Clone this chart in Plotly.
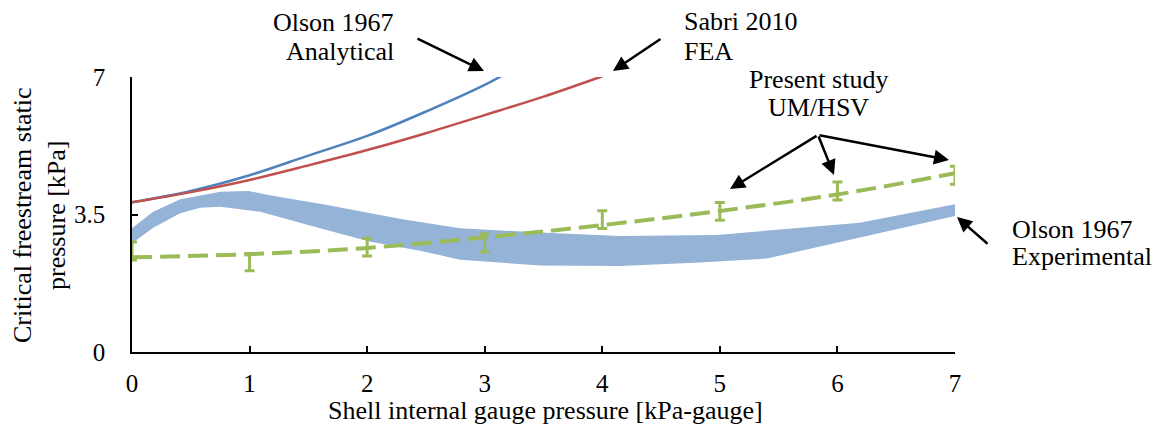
import plotly.graph_objects as go

# ---------------- data ----------------
# Olson 1967 analytical (blue line)
ana_x = [0, 0.5, 1, 1.5, 2, 2.5, 3, 3.2]
ana_y = [3.81, 4.10, 4.50, 5.00, 5.50, 6.12, 6.80, 7.12]
# Sabri 2010 FEA (red line)
fea_x = [0, 0.5, 1, 1.5, 2, 2.5, 3, 3.5, 4]
fea_y = [3.81, 4.07, 4.38, 4.75, 5.14, 5.57, 6.03, 6.50, 7.02]
# Olson 1967 experimental band (upper / lower edges)
exp_up_x = [0, 0.18, 0.41, 0.75, 0.99, 1.17, 1.66, 2.3, 2.79, 3.47, 4.15, 4.97, 6.19, 7.0]
exp_up_y = [3.15, 3.57, 3.89, 4.08, 4.10, 3.99, 3.74, 3.38, 3.15, 3.04, 2.95, 2.98, 3.29, 3.76]
exp_lo_x = [0, 0.18, 0.41, 0.58, 0.75, 1.09, 1.6, 2.02, 2.45, 2.79, 3.47, 4.15, 4.83, 5.4, 7.0]
exp_lo_y = [2.77, 3.16, 3.53, 3.67, 3.70, 3.57, 3.15, 2.81, 2.58, 2.35, 2.20, 2.19, 2.28, 2.38, 3.46]
# Present study UM/HSV
um_x = [0, 1, 2, 3, 4, 5, 6, 7]
um_y = [2.57, 2.29, 2.67, 2.78, 3.37, 3.58, 4.10, 4.50]
um_err = [0.23, 0.22, 0.225, 0.225, 0.225, 0.225, 0.23, 0.23]
trend_y = [2.41, 2.49, 2.65, 2.92, 3.23, 3.59, 4.01, 4.55]
# axes
x_ticks = [0, 1, 2, 3, 4, 5, 6, 7]
y_ticks = [0, 3.5, 7]
y_tick_text = ["0", "3.5", "7"]

# ---------------- layout geometry ----------------
W, H = 1157, 428
ML, MR, MT, MB = 132, 202, 77, 76
PW, PH = W - ML - MR, H - MT - MB


def px_x(px):
    return (px - ML) / PW


def px_y(py):
    return (H - MB - py) / PH


FONT = "Liberation Serif"
BLUE_BAND = "#95B3D7"
BLUE = "#4F81BD"
RED = "#C0504D"
GREEN = "#9BBB59"

fig = go.Figure()

# experimental band
fig.add_trace(go.Scatter(
    x=exp_up_x + exp_lo_x[::-1],
    y=exp_up_y + exp_lo_y[::-1],
    fill="toself", fillcolor=BLUE_BAND, mode="lines",
    line=dict(width=0, color=BLUE_BAND), hoverinfo="skip", showlegend=False))

fig.add_trace(go.Scatter(x=ana_x, y=ana_y, mode="lines", line=dict(color=BLUE, width=2.5, shape="spline"),
                         showlegend=False))
fig.add_trace(go.Scatter(x=fea_x, y=fea_y, mode="lines", line=dict(color=RED, width=2.5, shape="spline"),
                         showlegend=False))

# trend line
fig.add_trace(go.Scatter(x=um_x, y=trend_y, mode="lines",
                         line=dict(color=GREEN, width=4, dash="20px,8px", shape="spline"),
                         showlegend=False))
# error bars
fig.add_trace(go.Scatter(x=um_x, y=um_y, mode="markers",
                         marker=dict(size=1, color="rgba(0,0,0,0)"),
                         error_y=dict(type="data", array=um_err, visible=True, color=GREEN,
                                      thickness=3, width=5),
                         cliponaxis=False, showlegend=False))

annotations = []


def label(text, px, py, xanchor):
    annotations.append(dict(x=px_x(px), y=px_y(py), xref="paper", yref="paper", text=text,
                            showarrow=False, xanchor=xanchor, yanchor="middle",
                            font=dict(family=FONT, size=26, color="black")))


def arrow(tail, tip):
    annotations.append(dict(x=px_x(tip[0]), y=px_y(tip[1]),
                            ax=tail[0] - tip[0], ay=tail[1] - tip[1],
                            xref="paper", yref="paper", axref="pixel", ayref="pixel", text="",
                            showarrow=True, arrowhead=2, arrowsize=1.2, arrowwidth=2.5,
                            arrowcolor="black", standoff=0, startstandoff=0))


label("Olson 1967", 396, 22, "right")
label("Analytical", 396, 51, "right")
label("Sabri 2010", 682, 21, "left")
label("FEA", 682, 51, "left")
label("Present study", 818, 79, "center")
label("UM/HSV", 818, 108, "center")
label("Olson 1967", 1010, 229, "left")
label("Experimental", 1010, 256, "left")

arrow((416, 38), (484, 71))
arrow((662, 38), (613, 71))
arrow((818, 135), (730, 189))
arrow((818, 135), (834, 175))
arrow((818, 135), (949, 160))
arrow((989, 245), (957, 217))

# axis titles
annotations.append(dict(x=px_x(545), y=px_y(410), xref="paper", yref="paper",
                        text="Shell internal gauge pressure [kPa-gauge]", showarrow=False,
                        xanchor="center", yanchor="middle",
                        font=dict(family=FONT, size=26, color="black")))
annotations.append(dict(x=px_x(39), y=px_y(215), xref="paper", yref="paper",
                        text="Critical freestream static<br>pressure [kPa]", showarrow=False,
                        textangle=-90, xanchor="center", yanchor="middle",
                        font=dict(family=FONT, size=26, color="black")))

fig.update_layout(
    width=W, height=H,
    margin=dict(l=ML, r=MR, t=MT, b=MB),
    paper_bgcolor="white", plot_bgcolor="white",
    font=dict(family=FONT, size=25, color="black"),
    showlegend=False,
    annotations=annotations,
    xaxis=dict(range=[0, 7], tickvals=x_ticks, ticks="inside", ticklen=6, tickwidth=1.5,
               tickcolor="black", showline=True, linecolor="black", linewidth=1.5,
               showgrid=False, zeroline=False, ticklabelstandoff=8,
               tickfont=dict(family=FONT, size=25, color="black")),
    yaxis=dict(range=[0, 7], tickvals=y_ticks, ticktext=y_tick_text, ticks="inside", ticklen=6,
               tickwidth=1.5, tickcolor="black", showline=True, linecolor="black", linewidth=1.5,
               showgrid=False, zeroline=False, ticklabelstandoff=20,
               tickfont=dict(family=FONT, size=25, color="black")),
)

fig.write_html("out.html")
